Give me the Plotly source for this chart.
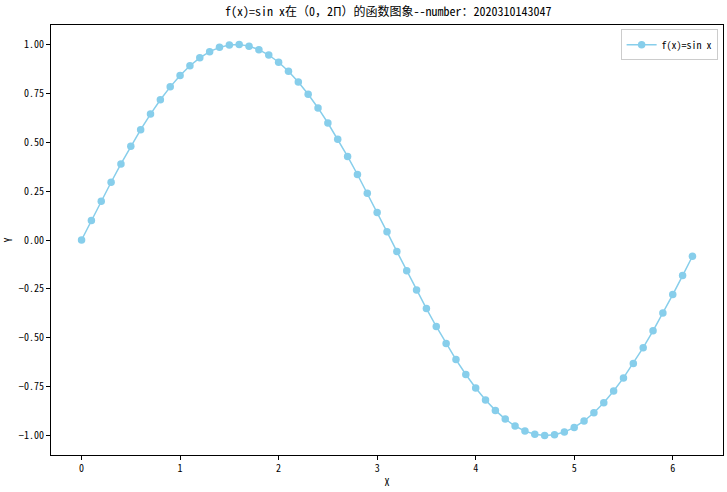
import plotly.graph_objects as go

x_vals = [0.0, 0.1, 0.2, 0.3, 0.4, 0.5, 0.6, 0.7, 0.8, 0.9,
          1.0, 1.1, 1.2, 1.3, 1.4, 1.5, 1.6, 1.7, 1.8, 1.9,
          2.0, 2.1, 2.2, 2.3, 2.4, 2.5, 2.6, 2.7, 2.8, 2.9,
          3.0, 3.1, 3.2, 3.3, 3.4, 3.5, 3.6, 3.7, 3.8, 3.9,
          4.0, 4.1, 4.2, 4.3, 4.4, 4.5, 4.6, 4.7, 4.8, 4.9,
          5.0, 5.1, 5.2, 5.3, 5.4, 5.5, 5.6, 5.7, 5.8, 5.9,
          6.0, 6.1, 6.2]
y_vals = [0.0, 0.0998, 0.1987, 0.2955, 0.3894, 0.4794, 0.5646, 0.6442, 0.7174, 0.7833,
          0.8415, 0.8912, 0.9320, 0.9636, 0.9854, 0.9975, 0.9996, 0.9917, 0.9738, 0.9463,
          0.9093, 0.8632, 0.8085, 0.7457, 0.6755, 0.5985, 0.5155, 0.4274, 0.3350, 0.2392,
          0.1411, 0.0416, -0.0584, -0.1577, -0.2555, -0.3508, -0.4425, -0.5298, -0.6119, -0.6878,
          -0.7568, -0.8183, -0.8716, -0.9162, -0.9516, -0.9775, -0.9937, -0.9999, -0.9962, -0.9825,
          -0.9589, -0.9258, -0.8835, -0.8323, -0.7728, -0.7055, -0.6313, -0.5507, -0.4646, -0.3739,
          -0.2794, -0.1822, -0.0831]
x_ticks = [0, 1, 2, 3, 4, 5, 6]
y_ticks = [-1.0, -0.75, -0.5, -0.25, 0.0, 0.25, 0.5, 0.75, 1.0]

FONT = "Noto Sans Mono CJK SC, Noto Sans CJK SC, DejaVu Sans, sans-serif"

fig = go.Figure()
fig.add_trace(go.Scatter(
    x=x_vals, y=y_vals, mode="lines+markers", name="f(x)=sin x",
    line=dict(color="#87CEEB", width=1.5),
    marker=dict(color="#87CEEB", size=7.5),
))

axis_common = dict(
    showgrid=False, zeroline=False, showline=True, linecolor="black", linewidth=1,
    mirror=True, ticks="outside", ticklen=4, tickcolor="black", tickwidth=1,
    automargin=False,
    tickfont=dict(family=FONT, size=10, color="black"),
)

fig.update_layout(
    width=727, height=492,
    margin=dict(l=51, r=4, t=25, b=37),
    paper_bgcolor="white", plot_bgcolor="white",
    title=dict(text="f(x)=sin x在（0，2Π）的函数图象--number：2020310143047",
               x=0.534, xanchor="center", xref="container", y=1, yref="container",
               yanchor="top", pad=dict(t=8),
               font=dict(family=FONT, size=12, color="black")),
    xaxis=dict(range=[-0.31, 6.51], tickvals=x_ticks,
               title=dict(text="X", standoff=4, font=dict(family=FONT, size=10, color="black")),
               **axis_common),
    yaxis=dict(range=[-1.0998, 1.0998], tickvals=y_ticks, tickformat=".2f",
               title=dict(text="Y", standoff=8, font=dict(family=FONT, size=10, color="black")),
               **axis_common),
    legend=dict(x=0.992, y=0.99, xanchor="right", yanchor="top",
                bgcolor="white", bordercolor="#cccccc", borderwidth=1,
                itemwidth=30, tracegroupgap=0,
                font=dict(family=FONT, size=10, color="black")),
    showlegend=True,
)

fig.write_html("out.html",
               config={"displayModeBar": False},
               post_script="document.body.style.margin='0';document.body.style.overflow='hidden';")
